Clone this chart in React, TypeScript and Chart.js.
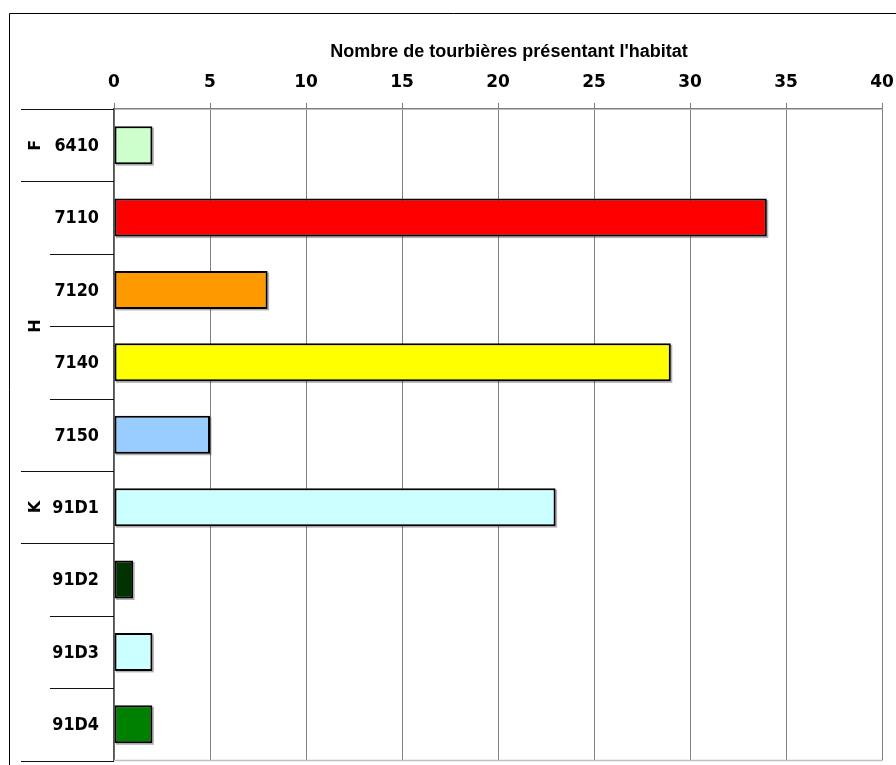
import React, { useEffect, useRef } from 'react';
import { Chart, registerables } from 'chart.js';

Chart.register(...registerables);

const categories = ['6410', '7110', '7120', '7140', '7150', '91D1', '91D2', '91D3', '91D4'];
const values = [2, 34, 8, 29, 5, 23, 1, 2, 2];
const barColors = ['#CCFFCC', '#FF0000', '#FF9900', '#FFFF00', '#99CCFF', '#CCFFFF', '#003300', '#CCFFFF', '#008000'];
const groupLabels = ['F', 'H', 'K', ''];
const groupSizes = [1, 4, 1, 3];
const xMin = 0;
const xMax = 40;
const xStep = 5;
const chartTitle = "Nombre de tourbières présentant l'habitat";

const TICK_FONT = '"DejaVu Sans", Verdana, sans-serif';

const decorPlugin = {
  id: 'decor',
  beforeDatasetsDraw(chart: any) {
    const ctx = chart.ctx;
    const meta = chart.getDatasetMeta(0);
    ctx.save();
    ctx.fillStyle = 'rgba(0,0,0,0.3)';
    meta.data.forEach((bar: any) => {
      const p = bar.getProps(['x', 'y', 'base', 'height'], true);
      ctx.fillRect(p.base + 1.5, p.y - p.height / 2 + 1.5, p.x - p.base, p.height);
    });
    ctx.restore();
  },
  afterDraw(chart: any) {
    const ctx = chart.ctx;
    const area = chart.chartArea;
    ctx.save();
    // outer frame
    ctx.strokeStyle = '#000';
    ctx.lineWidth = 1;
    ctx.beginPath();
    ctx.moveTo(9.5, chart.height + 10);
    ctx.lineTo(9.5, 13.5);
    ctx.lineTo(chart.width + 10, 13.5);
    ctx.stroke();

    // title
    ctx.fillStyle = '#000';
    ctx.font = 'bold 18px "Liberation Sans", Arial, sans-serif';
    ctx.textAlign = 'center';
    ctx.textBaseline = 'alphabetic';
    ctx.fillText(chartTitle, 509, 57);

    // bottom plot line
    ctx.strokeStyle = '#c0c0c0';
    ctx.lineWidth = 1.5;
    ctx.beginPath();
    ctx.moveTo(area.left, area.bottom);
    ctx.lineTo(area.right, area.bottom);
    ctx.stroke();

    const n = categories.length;
    const band = (area.bottom - area.top) / n;
    const groupBounds = new Set<number>([0]);
    let acc = 0;
    groupSizes.forEach((s) => {
      acc += s;
      groupBounds.add(acc);
    });

    // separators
    ctx.strokeStyle = '#111';
    ctx.lineWidth = 1;
    for (let i = 0; i <= n; i++) {
      const yb = Math.round(area.top + i * band) + 0.5;
      const x0 = groupBounds.has(i) ? 21 : 50;
      ctx.beginPath();
      ctx.moveTo(x0, yb);
      ctx.lineTo(area.left, yb);
      ctx.stroke();
    }

    // category labels (slightly tall, as in the reference)
    ctx.font = 'bold 16px ' + TICK_FONT;
    ctx.textAlign = 'right';
    ctx.textBaseline = 'middle';
    ctx.fillStyle = '#000';
    categories.forEach((c, i) => {
      const yc = area.top + (i + 0.5) * band;
      ctx.save();
      ctx.translate(area.left - 15, yc + 1);
      ctx.scale(1, 1.15);
      ctx.fillText(c, 0, 0);
      ctx.restore();
    });

    // group labels (rotated)
    let start = 0;
    groupLabels.forEach((g, gi) => {
      const size = groupSizes[gi];
      const yc = area.top + (start + size / 2) * band;
      start += size;
      if (!g) return;
      ctx.save();
      ctx.translate(36, yc);
      ctx.rotate(-Math.PI / 2);
      ctx.textAlign = 'center';
      ctx.textBaseline = 'middle';
      ctx.fillText(g, 0, 0);
      ctx.restore();
    });
    ctx.restore();
  },
};

export default function App() {
  const canvasRef = useRef<HTMLCanvasElement | null>(null);

  useEffect(() => {
    const canvas = canvasRef.current;
    if (!canvas) return;
    const chart = new Chart(canvas, {
      type: 'bar',
      data: {
        labels: categories,
        datasets: [
          {
            data: values,
            backgroundColor: barColors,
            borderColor: '#000',
            borderWidth: 2,
            borderSkipped: false,
            barPercentage: 0.525,
            categoryPercentage: 1,
          },
        ],
      },
      options: {
        indexAxis: 'y',
        animation: false,
        responsive: false,
        devicePixelRatio: 1,
        layout: { padding: { top: 0, left: 0, right: 14, bottom: 4.5 } },
        plugins: {
          legend: { display: false },
          tooltip: { enabled: false },
          title: { display: false },
        },
        scales: {
          x: {
            type: 'linear',
            position: 'top',
            min: xMin,
            max: xMax,
            ticks: {
              stepSize: xStep,
              color: '#000',
              padding: 10,
              font: { family: TICK_FONT, size: 17, weight: 'bold' },
            },
            grid: { color: '#808080', lineWidth: 1, tickLength: 6, drawTicks: true },
            border: { display: true, color: '#808080', width: 1.5 },
            afterFit: (s: any) => {
              s.height = 109;
              s.paddingLeft = 0;
              s.paddingRight = 0;
            },
          },
          y: {
            type: 'category',
            ticks: { display: false },
            grid: { display: false },
            border: { display: true, color: '#555', width: 1.5 },
            afterFit: (s: any) => {
              s.width = 114;
              s.paddingTop = 0;
              s.paddingBottom = 0;
            },
          },
        },
      },
      plugins: [decorPlugin],
    } as any);
    return () => chart.destroy();
  }, []);

  return (
    <div style={{ position: 'absolute', left: 0, top: 0, width: 896, height: 765, background: '#fff' }}>
      <canvas ref={canvasRef} width={896} height={765} style={{ display: 'block' }} />
    </div>
  );
}
